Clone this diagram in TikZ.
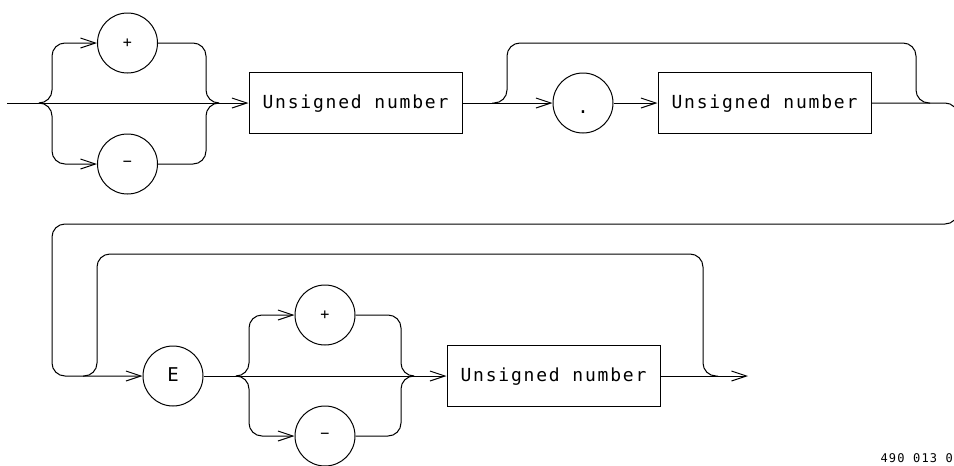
\documentclass[tikz,border=0pt]{standalone}
\usepackage{fontspec}
\newfontfamily\plotfont{DejaVu Sans Mono}[LetterSpace=10]
\usetikzlibrary{arrows.meta,positioning}

\tikzset{
  conn/.style={line width=1pt, rounded corners=13pt},
  arr/.style={-{Straight Barb[length=15pt,width=10pt]}},
  term/.style={circle, draw, line width=1pt, minimum size=60pt, inner sep=0pt,
    font=\plotfont\fontsize{15}{17}\selectfont},
  bigterm/.style={term, font=\plotfont\fontsize{19}{21}\selectfont,
    text height=11pt, text depth=0pt},
  nonterm/.style={rectangle, draw, line width=1pt, minimum width=213pt,
    minimum height=61pt, inner sep=0pt,
    font=\plotfont\fontsize{18}{20}\selectfont, text height=11pt, text depth=0pt},
}

\begin{document}
\begin{tikzpicture}[x=1pt, y=-1pt]
\useasboundingbox (0,0) rectangle (954,466);

% first line: sign, integer part, fraction
\coordinate (in) at (7,103);
\coordinate (s1) at (40,103);
\coordinate (j1) at (218,103);
\node[term] (plus1) at (127.5,43) {+};
\node[term, on grid, below=121pt of plus1] (minus1) {−};
\node[nonterm] (num1) at (355.5,103) {Unsigned number};
\coordinate (s2) at (492,103);
\node[bigterm, text height=21pt] (dot) at (583,103) {.};
\node[nonterm] (num2) at (764.5,103) {Unsigned number};
\coordinate (j2) at (930,103);

\draw[conn, arr] (in) -- (num1);
\draw[conn, arr] (s1) -| ++(12,-60) -- (plus1);
\draw[conn, arr] (s1) -| ++(12,61) -- (minus1);
\draw[conn] (plus1) -| ++(78.5,60) -- (j1);
\draw[conn] (minus1) -| ++(78.5,-61) -- (j1);
\draw[conn, arr] (num1) -- (dot);
\draw[conn, arr] (dot) -- (num2);
\draw[conn] (s2) -| ++(15,-60) -| ++(409,60) -- (j2);

% second line: exponent
\coordinate (s3) at (83,376);
\node[bigterm] (E) at (173,376) {E};
\coordinate (s4) at (237,376);
\node[term] (plus2) at (325,315) {+};
\node[term, on grid, below=121pt of plus2] (minus2) {−};
\coordinate (j3) at (413,376);
\node[nonterm] (num3) at (553.5,376) {Unsigned number};
\coordinate (j4) at (718,376);
\coordinate (out) at (748,376);

% wrap from the end of the first line
\draw[conn, arr] (num2) -- (j2) -| ++(28,121) -| ++(-906,152) -- (E);
\draw[conn] (s3) -| ++(14,-122) -| ++(606,122) -- (j4);
\draw[conn, arr] (E) -- (num3);
\draw[conn, arr] (s4) -| ++(12,-61) -- (plus2);
\draw[conn, arr] (s4) -| ++(12,60) -- (minus2);
\draw[conn] (plus2) -| ++(76,61) -- (j3);
\draw[conn] (minus2) -| ++(76,-60) -- (j3);
\draw[conn, arr] (num3) -- (out);

\node[anchor=east, inner sep=0pt, font=\plotfont\fontsize{12}{14}\selectfont]
  (code) at (953,458) {490 013 0};
\end{tikzpicture}
\end{document}
